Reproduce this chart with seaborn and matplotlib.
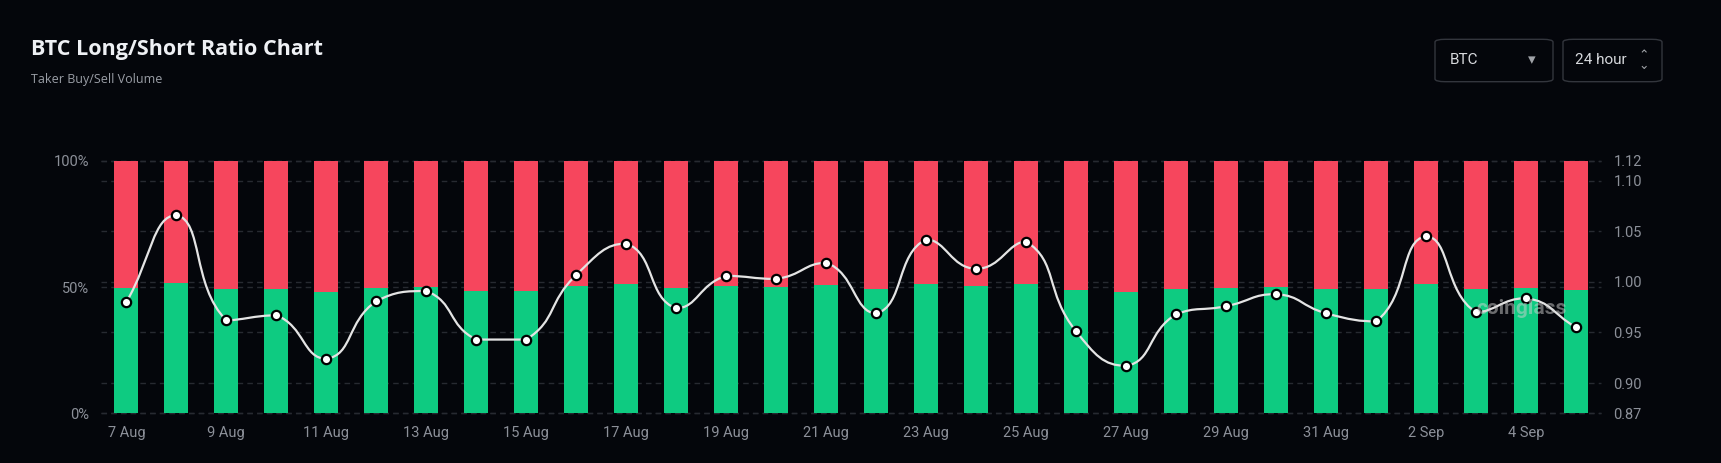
import numpy as np
import pandas as pd
import matplotlib
matplotlib.use("Agg")
import matplotlib.pyplot as plt
from matplotlib.path import Path
from matplotlib.patches import PathPatch, FancyBboxPatch
import seaborn as sns

# data
dates = ["7 Aug", "8 Aug", "9 Aug", "10 Aug", "11 Aug", "12 Aug", "13 Aug", "14 Aug",
         "15 Aug", "16 Aug", "17 Aug", "18 Aug", "19 Aug", "20 Aug", "21 Aug", "22 Aug",
         "23 Aug", "24 Aug", "25 Aug", "26 Aug", "27 Aug", "28 Aug", "29 Aug", "30 Aug",
         "31 Aug", "1 Sep", "2 Sep", "3 Sep", "4 Sep", "5 Sep"]
long_pct = [49.7, 51.6, 49.1, 49.2, 48.1, 49.7, 49.9, 48.5, 48.5, 50.3,
            51.1, 49.5, 50.3, 50.1, 50.7, 49.3, 51.2, 50.4, 51.1, 48.8,
            47.9, 49.2, 49.5, 49.9, 49.3, 49.1, 51.2, 49.3, 49.7, 48.9]
short_pct = [100 - v for v in long_pct]
ratio = [0.980, 1.066, 0.962, 0.967, 0.924, 0.981, 0.991, 0.943, 0.943, 1.007,
         1.038, 0.974, 1.006, 1.003, 1.019, 0.969, 1.042, 1.013, 1.040, 0.951,
         0.917, 0.968, 0.976, 0.988, 0.969, 0.961, 1.045, 0.970, 0.984, 0.955]
ratio_ticks = [0.87, 0.90, 0.95, 1.00, 1.05, 1.10, 1.12]
pct_ticks = [0, 50, 100]
date_ticks = dates[::2]

BG = "#04060b"
GREEN = "#0ecb81"
RED = "#f6465d"
GRID = "#272a31"
TXT = "#8c9099"

sns.set_theme(style="dark")
plt.rcParams["font.family"] = ["Roboto", "DejaVu Sans"]

df = pd.DataFrame({"date": dates, "long": long_pct, "short": short_pct, "ratio": ratio})
df["total"] = df["long"] + df["short"]

fig = plt.figure(figsize=(17.21, 4.63), dpi=100, facecolor=BG)
ax = fig.add_axes([0.0589, 0.1073, 0.8714, 0.5456])
ax.set_facecolor(BG)

sns.barplot(data=df, x="date", y="total", color=RED, width=0.48, saturation=1, ax=ax,
            order=dates, linewidth=0, zorder=2)
sns.barplot(data=df, x="date", y="long", color=GREEN, width=0.48, saturation=1, ax=ax,
            order=dates, linewidth=0, zorder=2)
ax.set_xlim(-0.5, len(dates) - 0.5)
ax.set_ylim(0, 100)
ax.set_yticks(pct_ticks)
ax.set_yticklabels([f"{v}%" for v in pct_ticks])
ax.set_xticks(range(0, len(dates), 2))
ax.set_xticklabels(date_ticks)
ax.set_xticks(np.arange(-0.5, len(dates), 2), minor=True)
ax.tick_params(axis="x", which="major", length=0, pad=9, labelsize=10.5, colors=TXT)
ax.tick_params(axis="x", which="minor", length=4, width=1, colors="#33363d")
ax.tick_params(axis="y", length=0, pad=9, labelsize=10.5, colors=TXT)
ax.set_xlabel("")
ax.set_ylabel("")
ax.grid(False)
for s in ax.spines.values():
    s.set_visible(False)

ax2 = ax.twinx()
ax2.set_ylim(0.87, 1.12)
ax2.set_yticks(ratio_ticks)
ax2.set_yticklabels([f"{v:.2f}" for v in ratio_ticks])
ax2.tick_params(axis="y", length=0, pad=9, labelsize=10.5, colors=TXT)
ax2.grid(False)
for s in ax2.spines.values():
    s.set_visible(False)

# dashed gridlines for both scales, kept behind the bars
for v in pct_ticks:
    ax.plot([0, 1], [v, v], transform=ax.get_yaxis_transform(), color=GRID, lw=1,
            ls=(0, (4, 3)), zorder=0, clip_on=False)
for v in ratio_ticks:
    ax.plot([0, 1], [v, v], transform=ax2.get_yaxis_transform(), color=GRID, lw=1,
            ls=(0, (4, 3)), zorder=0, clip_on=False)

# smooth line (echarts style bezier with clamped control points)
xs = np.arange(len(ratio), dtype=float)
ys = np.array(ratio)
sx, sy = 50.0, 1010.0
smooth = 0.5
n = len(xs)
verts = [(xs[0], ys[0])]
codes = [Path.MOVETO]

def ctrl(i):
    p = i - 1 if i > 0 else i
    q = i + 1 if i < n - 1 else i
    vx, vy = xs[q] - xs[p], ys[q] - ys[p]
    l0 = np.hypot((xs[i] - xs[p]) * sx, (ys[i] - ys[p]) * sy)
    l1 = np.hypot((xs[q] - xs[i]) * sx, (ys[q] - ys[i]) * sy)
    r = l1 / (l0 + l1) if (l0 + l1) > 0 else 0.5
    nxt = (xs[i] + vx * smooth * r, ys[i] + vy * smooth * r)
    prv = (xs[i] - vx * smooth * (1 - r), ys[i] - vy * smooth * (1 - r))
    return prv, nxt

cps = [ctrl(i) for i in range(n)]
for i in range(n - 1):
    lo, hi = min(ys[i], ys[i + 1]), max(ys[i], ys[i + 1])
    c1 = (cps[i][1][0], min(max(cps[i][1][1], lo), hi))
    c2 = (cps[i + 1][0][0], min(max(cps[i + 1][0][1], lo), hi))
    verts += [c1, c2, (xs[i + 1], ys[i + 1])]
    codes += [Path.CURVE4] * 3
ax2.add_patch(PathPatch(Path(verts, codes), fill=False, edgecolor="#e4e4e4", lw=1.6, zorder=3))
sns.scatterplot(x=xs, y=ys, ax=ax2, s=45, color="white", edgecolor="black", linewidth=1.6, zorder=4)
ax2.set_xlim(-0.5, len(dates) - 0.5)

fig.text(1522 / 1721, 1 - 309 / 463, "coinglass", color="#d0d0d0", alpha=0.5, fontsize=15,
         fontweight="bold", ha="center", va="center", zorder=5)

# header
fig.text(31 / 1721, 1 - 50 / 463, "BTC Long/Short Ratio Chart", color="#eef0f4", fontsize=15.5,
         fontweight="bold", family=["Open Sans", "DejaVu Sans"], va="center")
fig.text(31 / 1721, 1 - 80 / 463, "Taker Buy/Sell Volume", color="#9a9ea6", fontsize=9,
         family=["Open Sans", "DejaVu Sans"], va="center")

W, H = 1721, 463
for x0, x1 in [(1435, 1553), (1563, 1662)]:
    fig.patches.append(FancyBboxPatch((x0 / W, 1 - 81.7 / H), (x1 - x0) / W, 42.4 / H,
                                      boxstyle="round,pad=0,rounding_size=0.006",
                                      transform=fig.transFigure, facecolor=BG,
                                      edgecolor="#33363d", lw=1))
fig.text(1450 / W, 1 - 60.5 / H, "BTC", color="#d6d8dc", fontsize=11, va="center")
fig.text(1532 / W, 1 - 60.5 / H, "▾", color="#a0a3a8", fontsize=11, va="center", ha="center")
fig.text(1575 / W, 1 - 60.5 / H, "24 hour", color="#d6d8dc", fontsize=11, va="center")
fig.text(1644 / W, 1 - 60.5 / H, "⌃\n⌄", color="#a0a3a8", fontsize=9, va="center", ha="center",
         linespacing=0.7, family=["DejaVu Sans"])

fig.savefig("out.png", dpi=100, facecolor=BG)
